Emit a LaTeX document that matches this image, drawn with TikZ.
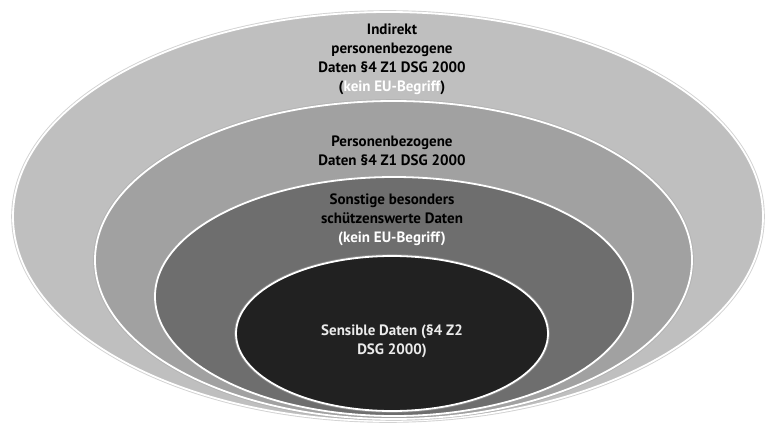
\documentclass[tikz,border=0pt]{standalone}
\usepackage{fontspec}
\setmainfont{PT Sans}
\begin{document}
\begin{tikzpicture}[x=1pt,y=-1pt,
  ring/.style={fill=#1,draw=white,line width=1.8pt},
  rim/.style={draw=black!35,line width=3.6pt,opacity=0.5},
  lbl/.style={align=center,font=\bfseries\fontsize{15}{18.8}\selectfont,inner sep=0pt}]
\useasboundingbox (0,0) rectangle (765,423);
\fill[white] (0,0) rectangle (765,423);
% outer
\draw[rim] (388,216.5) ellipse [x radius=375pt,y radius=204.5pt];
\path[ring=black!25] (388,216.5) ellipse [x radius=375pt,y radius=204.5pt];
% second
\draw[rim] (393.5,260) ellipse [x radius=298.5pt,y radius=159pt];
\path[ring=black!37] (393.5,260) ellipse [x radius=298.5pt,y radius=159pt];
% third
\draw[rim] (394,296.5) ellipse [x radius=239pt,y radius=119.5pt];
\path[ring=black!57] (394,296.5) ellipse [x radius=239pt,y radius=119.5pt];
% inner
\draw[rim] (392,333.5) ellipse [x radius=156pt,y radius=77.5pt];
\path[ring=black!87] (392,333.5) ellipse [x radius=156pt,y radius=77.5pt];
\node[lbl] (t1) at (392,59.5) {Indirekt\\personenbezogene\\Daten §4 Z1 DSG 2000\\(\textcolor{white}{kein EU-Begriff})};
\node[lbl] (t2) at (392,151) {Personenbezogene\\Daten §4 Z1 DSG 2000};
\node[lbl,text=white] (t3) at (392,220) {\textcolor{black}{Sonstige besonders}\\\textcolor{black}{schützenswerte Daten}\\(kein EU-Begriff)};
\node[lbl,text=white!92!black] (t4) at (392,341) {Sensible Daten (§4 Z2\\DSG 2000)};
\end{tikzpicture}
\end{document}
